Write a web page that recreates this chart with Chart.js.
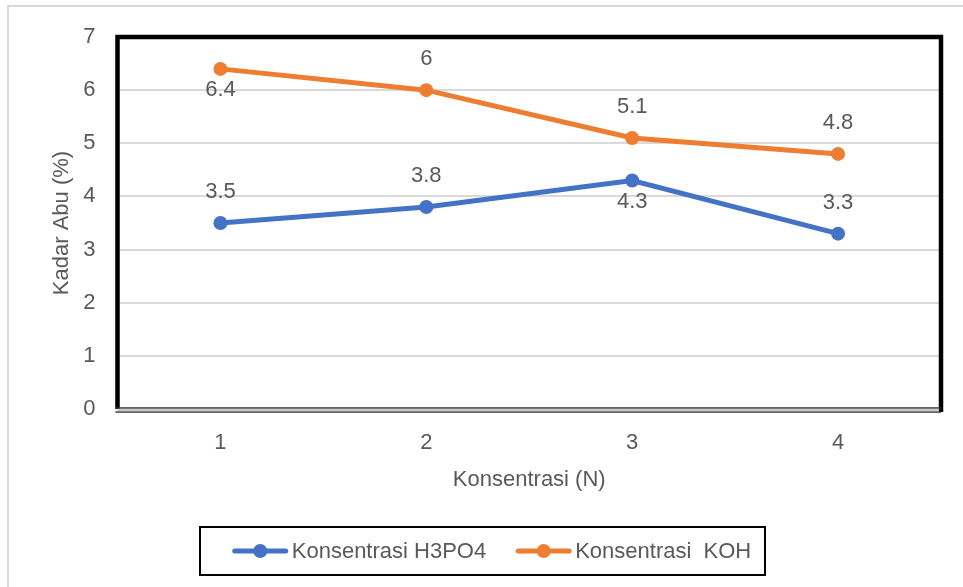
<!DOCTYPE html>
<html>
<head>
<meta charset="utf-8">
<script src="https://cdn.jsdelivr.net/npm/chart.js@4/dist/chart.umd.min.js"></script>
<style>
  html, body { margin: 0; padding: 0; background: #ffffff; }
  #wrap { width: 963px; height: 587px; position: relative; }
</style>
</head>
<body>
<div id="wrap"><canvas id="chart" width="963" height="587"></canvas></div>
<script>
// Concentration levels (N) on the x axis
const categories = ['1', '2', '3', '4'];
// Ash content (%) for each activator
const h3po4Values = [3.5, 3.8, 4.3, 3.3];
const kohValues = [6.4, 6, 5.1, 4.8];
// Series names shown in the legend
const seriesNames = ['Konsentrasi H3PO4', 'Konsentrasi  KOH'];
// Y axis range and step
const yMin = 0, yMax = 7, yStep = 1;
// Which side of each point its value label sits on
const h3po4LabelSide = ['above', 'above', 'below', 'above'];
const kohLabelSide = ['below', 'above', 'above', 'above'];

const FONT = "'Liberation Sans', Arial, sans-serif";
const TEXT = '#595959';
const BLUE = '#4472C4';
const ORANGE = '#ED7D31';

// Frame around the plot, outer chart edge, value labels and the boxed legend
const decorations = {
  id: 'decorations',
  beforeDraw(chart) {
    const ctx = chart.ctx;
    ctx.save();
    ctx.strokeStyle = '#d9d9d9';
    ctx.lineWidth = 2;
    ctx.beginPath();
    ctx.moveTo(8, chart.height + 2);
    ctx.lineTo(8, 6);
    ctx.lineTo(chart.width + 2, 6);
    ctx.stroke();
    ctx.restore();
  },
  afterDatasetsDraw(chart) {
    const ctx = chart.ctx;
    const sides = [h3po4LabelSide, kohLabelSide];
    ctx.save();
    ctx.font = '22px ' + FONT;
    ctx.fillStyle = TEXT;
    ctx.textAlign = 'center';
    ctx.textBaseline = 'middle';
    chart.data.datasets.forEach((ds, di) => {
      const meta = chart.getDatasetMeta(di);
      meta.data.forEach((pt, i) => {
        const dy = sides[di][i] === 'above' ? -31 : 21;
        ctx.fillText(String(ds.data[i]), pt.x, pt.y + dy);
      });
    });
    ctx.restore();
  },
  afterDraw(chart) {
    const ctx = chart.ctx;
    const a = chart.chartArea;
    ctx.save();
    // plot frame
    ctx.strokeStyle = '#000000';
    ctx.lineWidth = 4.5;
    ctx.beginPath();
    ctx.moveTo(a.left, a.bottom);
    ctx.lineTo(a.left, a.top);
    ctx.lineTo(a.right, a.top);
    ctx.lineTo(a.right, a.bottom + 3);
    ctx.stroke();
    // category axis line along the bottom
    ctx.lineWidth = 1.5;
    ctx.strokeStyle = '#333333';
    ctx.beginPath();
    ctx.moveTo(a.left - 2, a.bottom - 1);
    ctx.lineTo(a.right, a.bottom - 1);
    ctx.moveTo(a.left - 2, a.bottom + 3);
    ctx.lineTo(a.right, a.bottom + 3);
    ctx.stroke();
    ctx.strokeStyle = '#c8c8c8';
    ctx.lineWidth = 2.5;
    ctx.beginPath();
    ctx.moveTo(a.left, a.bottom + 1);
    ctx.lineTo(a.right - 2, a.bottom + 1);
    ctx.stroke();

    // legend box
    const box = { left: 200, top: 527, right: 765, bottom: 575 };
    ctx.strokeStyle = '#000000';
    ctx.lineWidth = 2;
    ctx.strokeRect(box.left, box.top, box.right - box.left, box.bottom - box.top);

    ctx.font = '22px ' + FONT;
    const markerW = 55, markerGap = 4, itemGap = 30;
    const widths = seriesNames.map(n => ctx.measureText(n).width);
    const total = widths.reduce((s, w) => s + markerW + markerGap + w, 0) + itemGap * (seriesNames.length - 1);
    let x = 492 - total / 2;
    const cy = (box.top + box.bottom) / 2;
    chart.data.datasets.forEach((ds, i) => {
      ctx.strokeStyle = ds.borderColor;
      ctx.lineWidth = 5;
      ctx.lineCap = 'round';
      ctx.beginPath();
      ctx.moveTo(x + 2, cy);
      ctx.lineTo(x + markerW - 2, cy);
      ctx.stroke();
      ctx.fillStyle = ds.borderColor;
      ctx.beginPath();
      ctx.arc(x + markerW / 2, cy, 7, 0, Math.PI * 2);
      ctx.fill();
      ctx.fillStyle = TEXT;
      ctx.textAlign = 'left';
      ctx.textBaseline = 'middle';
      ctx.fillText(seriesNames[i], x + markerW + markerGap, cy + 1);
      x += markerW + markerGap + widths[i] + itemGap;
    });
    ctx.restore();
  }
};

new Chart(document.getElementById('chart'), {
  type: 'line',
  data: {
    labels: categories,
    datasets: [
      {
        label: seriesNames[0],
        data: h3po4Values,
        borderColor: BLUE,
        backgroundColor: BLUE,
        borderWidth: 5,
        pointRadius: 7,
        pointBorderWidth: 0,
        pointBackgroundColor: BLUE,
        tension: 0
      },
      {
        label: seriesNames[1],
        data: kohValues,
        borderColor: ORANGE,
        backgroundColor: ORANGE,
        borderWidth: 5,
        pointRadius: 7,
        pointBorderWidth: 0,
        pointBackgroundColor: ORANGE,
        tension: 0
      }
    ]
  },
  options: {
    responsive: false,
    animation: false,
    layout: { padding: { top: 37, right: 22, left: 49, bottom: 94 } },
    plugins: {
      legend: { display: false },
      tooltip: { enabled: false }
    },
    scales: {
      x: {
        offset: true,
        grid: { display: false, drawTicks: false },
        border: { display: false },
        ticks: { color: TEXT, font: { family: FONT, size: 22 }, padding: 21 },
        title: {
          display: true, text: 'Konsentrasi (N)', color: TEXT,
          font: { family: FONT, size: 22 }, padding: 0
        },
        afterFit(scale) { scale.height = 84; }
      },
      y: {
        min: yMin, max: yMax,
        grid: { color: '#d9d9d9', lineWidth: 2, drawTicks: false },
        border: { display: false },
        ticks: { stepSize: yStep, color: TEXT, font: { family: FONT, size: 22 }, padding: 22 },
        title: {
          display: true, text: 'Kadar Abu (%)', color: TEXT,
          font: { family: FONT, size: 22 }, padding: 0
        },
        afterFit(scale) { scale.width = 68.5; }
      }
    }
  },
  plugins: [decorations]
});
</script>
</body>
</html>
